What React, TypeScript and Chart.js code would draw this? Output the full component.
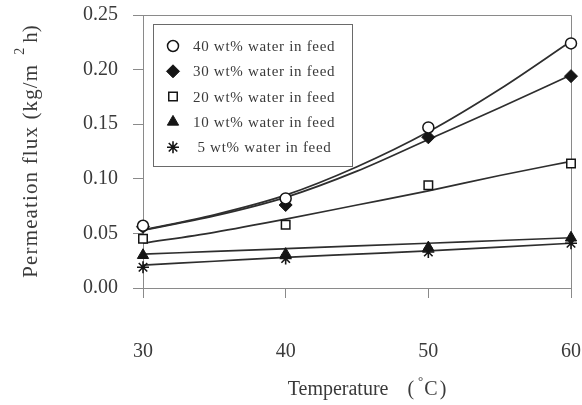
import React, { useEffect, useRef } from 'react';
import { Chart, registerables } from 'chart.js';
import { drawPoint } from 'chart.js/helpers';

Chart.register(...registerables);

// Measured points
const temperatures = [30, 40, 50, 60];
const flux40 = [0.057, 0.082, 0.147, 0.224];
const flux30 = [0.056, 0.076, 0.138, 0.194];
const flux20 = [0.045, 0.058, 0.094, 0.114];
const flux10 = [0.030, 0.031, 0.037, 0.046];
const flux5 = [0.019, 0.027, 0.033, 0.041];

// Trend lines
const fitTemps = [30, 35, 40, 45, 50, 55, 60];
const fit40 = [0.053, 0.067, 0.085, 0.111, 0.143, 0.182, 0.226];
const fit30 = [0.053, 0.066, 0.083, 0.107, 0.136, 0.165, 0.195];
const fit20 = [0.041, 0.051, 0.063, 0.076, 0.089, 0.103, 0.116];
const fit10 = [0.031, 0.0335, 0.036, 0.0385, 0.041, 0.0435, 0.046];
const fit5 = [0.021, 0.0245, 0.028, 0.031, 0.034, 0.0375, 0.041];

const seriesLabels = [
  '40 wt% water in feed',
  '30 wt% water in feed',
  '20 wt% water in feed',
  '10 wt% water in feed',
  ' 5 wt% water in feed',
];

const xTicks = [30, 40, 50, 60];
const yTicks = [0, 0.05, 0.1, 0.15, 0.2, 0.25];

const xTitleMain = 'Temperature';
const xTitleUnit = ['(', '°', 'C', ')'];
const yTitleMain = 'Permeation flux (kg/m';
const yTitleSup = '2';
const yTitleTail = 'h)';

const SERIF = '"Liberation Serif", "Times New Roman", serif';
const TEXT = '#3a3a3a';
const AXIS = '#8a8a8a';
const INK = '#151515';

const markerStyles = [
  { pointStyle: 'circle', radius: 5.5, fill: '#ffffff', border: INK, bw: 1.5 },
  { pointStyle: 'rectRot', radius: 6.5, fill: INK, border: INK, bw: 1 },
  { pointStyle: 'rect', radius: 6, fill: '#ffffff', border: INK, bw: 1.5 },
  { pointStyle: 'triangle', radius: 6.5, fill: INK, border: INK, bw: 1 },
  { pointStyle: 'star', radius: 6, fill: INK, border: INK, bw: 1.6 },
];

const pointSeries = [flux40, flux30, flux20, flux10, flux5];
const fitSeries = [fit40, fit30, fit20, fit10, fit5];

const framePlugin = {
  id: 'frameAndLegend',
  beforeDatasetsDraw(chart: any) {
    const { ctx, chartArea } = chart;
    ctx.save();
    ctx.strokeStyle = AXIS;
    ctx.lineWidth = 1;
    ctx.beginPath();
    ctx.moveTo(chartArea.left, chartArea.top + 0.5);
    ctx.lineTo(chartArea.right + 0.5, chartArea.top + 0.5);
    ctx.lineTo(chartArea.right + 0.5, chartArea.bottom);
    ctx.stroke();
    ctx.restore();
  },
  afterDraw(chart: any) {
    const { ctx, chartArea } = chart;
    // Legend box
    const bx = chartArea.left + 10;
    const by = chartArea.top + 9;
    const bw = 199;
    const bh = 142;
    ctx.save();
    ctx.fillStyle = '#ffffff';
    ctx.fillRect(bx, by, bw, bh);
    ctx.strokeStyle = '#6a6a6a';
    ctx.lineWidth = 1;
    ctx.strokeRect(bx + 0.5, by + 0.5, bw, bh);
    ctx.font = `15px ${SERIF}`;
    ctx.textBaseline = 'middle';
    ctx.textAlign = 'left';
    (ctx as any).letterSpacing = '0.7px';
    seriesLabels.forEach((label, i) => {
      const cy = by + 22 + i * 25.3;
      const m = markerStyles[i];
      ctx.fillStyle = m.fill;
      ctx.strokeStyle = m.border;
      ctx.lineWidth = m.bw;
      drawPoint(ctx, { pointStyle: m.pointStyle as any, radius: m.radius, rotation: 0, borderWidth: m.bw }, bx + 20, cy);
      ctx.fillStyle = TEXT;
      ctx.fillText(label, bx + 40, cy + 1);
    });
    ctx.restore();

    // X title
    ctx.save();
    ctx.fillStyle = TEXT;
    ctx.textBaseline = 'middle';
    ctx.textAlign = 'left';
    ctx.font = `20px ${SERIF}`;
    const cx = (chartArea.left + chartArea.right) / 2 + 10;
    const ty = chartArea.bottom + 102;
    const wMain = ctx.measureText(xTitleMain).width;
    const wOpen = ctx.measureText(xTitleUnit[0]).width;
    const wC = ctx.measureText(xTitleUnit[2]).width;
    const wClose = ctx.measureText(xTitleUnit[3]).width;
    ctx.font = `13px ${SERIF}`;
    const wDeg = ctx.measureText(xTitleUnit[1]).width;
    const gap1 = 19, gap2 = 4, gap3 = 1, gap4 = 2;
    const total = wMain + gap1 + wOpen + gap2 + wDeg + gap3 + wC + gap4 + wClose;
    let x = cx - total / 2;
    ctx.font = `20px ${SERIF}`;
    ctx.fillText(xTitleMain, x, ty);
    x += wMain + gap1;
    ctx.fillText(xTitleUnit[0], x, ty);
    x += wOpen + gap2;
    ctx.font = `13px ${SERIF}`;
    ctx.fillText(xTitleUnit[1], x, ty - 8);
    x += wDeg + gap3;
    ctx.font = `20px ${SERIF}`;
    ctx.fillText(xTitleUnit[2], x, ty);
    x += wC + gap4;
    ctx.fillText(xTitleUnit[3], x, ty);
    ctx.restore();

    // Y title (rotated)
    ctx.save();
    ctx.fillStyle = TEXT;
    ctx.textBaseline = 'middle';
    ctx.textAlign = 'left';
    ctx.translate(31, (chartArea.top + chartArea.bottom) / 2);
    ctx.rotate(-Math.PI / 2);
    ctx.font = `21px ${SERIF}`;
    const natMain = ctx.measureText(yTitleMain).width;
    const targetMain = 214;
    const ls = (targetMain - natMain) / yTitleMain.length;
    (ctx as any).letterSpacing = `${ls}px`;
    const wm = ctx.measureText(yTitleMain).width;
    (ctx as any).letterSpacing = '0px';
    const wt = ctx.measureText(yTitleTail).width;
    ctx.font = `14px ${SERIF}`;
    const ws = ctx.measureText(yTitleSup).width;
    const supGap1 = 9, supGap2 = 5;
    const ytotal = wm + supGap1 + ws + supGap2 + wt;
    let yx = -ytotal / 2;
    ctx.font = `21px ${SERIF}`;
    (ctx as any).letterSpacing = `${ls}px`;
    ctx.fillText(yTitleMain, yx, 0);
    (ctx as any).letterSpacing = '0px';
    yx += wm + supGap1;
    ctx.font = `14px ${SERIF}`;
    ctx.fillText(yTitleSup, yx, -11);
    yx += ws + supGap2;
    ctx.font = `21px ${SERIF}`;
    ctx.fillText(yTitleTail, yx, 0);
    ctx.restore();
  },
};

export default function App() {
  const canvasRef = useRef<HTMLCanvasElement | null>(null);

  useEffect(() => {
    document.body.style.margin = '0';
    const canvas = canvasRef.current;
    if (!canvas) return;

    const datasets: any[] = [];
    pointSeries.forEach((vals, i) => {
      const m = markerStyles[i];
      datasets.push({
        label: seriesLabels[i],
        data: temperatures.map((t, k) => ({ x: t, y: vals[k] })),
        showLine: false,
        pointStyle: m.pointStyle,
        pointRadius: m.radius,
        pointBackgroundColor: m.fill,
        pointBorderColor: m.border,
        pointBorderWidth: m.bw,
        clip: false,
        order: 0,
      });
    });
    fitSeries.forEach((vals, i) => {
      datasets.push({
        label: 'fit ' + seriesLabels[i],
        data: fitTemps.map((t, k) => ({ x: t, y: vals[k] })),
        showLine: true,
        borderColor: '#2e2e2e',
        borderWidth: 1.7,
        pointRadius: 0,
        tension: 0.4,
        cubicInterpolationMode: 'monotone',
        fill: false,
        clip: false,
        order: 1,
      });
    });

    const chart = new Chart(canvas, {
      type: 'scatter',
      data: { datasets },
      options: {
        animation: false,
        responsive: false,
        maintainAspectRatio: false,
        layout: { padding: { left: 0, top: 15, right: 11, bottom: 0 } },
        plugins: {
          legend: { display: false },
          tooltip: { enabled: false },
        },
        scales: {
          x: {
            type: 'linear',
            min: 30,
            max: 60,
            afterFit: (s: any) => {
              s.height = 117;
              s.paddingLeft = 0;
              s.paddingRight = 0;
            },
            afterBuildTicks: (s: any) => { s.ticks = xTicks.map((v) => ({ value: v })); },
            ticks: {
              padding: 42,
              color: TEXT,
              font: { family: SERIF, size: 20 },
              callback: (v: any) => String(v),
              maxRotation: 0,
            },
            grid: { drawOnChartArea: false, tickLength: 10, color: AXIS, tickColor: AXIS },
            border: { color: AXIS, width: 1 },
            title: { display: false },
          },
          y: {
            type: 'linear',
            min: 0,
            max: 0.25,
            afterFit: (s: any) => {
              s.width = 143;
              s.paddingTop = 0;
              s.paddingBottom = 0;
            },
            afterBuildTicks: (s: any) => { s.ticks = yTicks.map((v) => ({ value: v })); },
            ticks: {
              padding: 15,
              color: TEXT,
              font: { family: SERIF, size: 20 },
              callback: (v: any) => Number(v).toFixed(2),
            },
            grid: { drawOnChartArea: false, tickLength: 10, color: AXIS, tickColor: AXIS },
            border: { color: AXIS, width: 1 },
            title: { display: false },
          },
        },
      },
      plugins: [framePlugin],
    } as any);

    return () => chart.destroy();
  }, []);

  return (
    <div style={{ position: 'absolute', left: 0, top: 0, width: 582, height: 405, background: '#fff' }}>
      <canvas ref={canvasRef} width={582} height={405} style={{ width: 582, height: 405, display: 'block' }} />
    </div>
  );
}
